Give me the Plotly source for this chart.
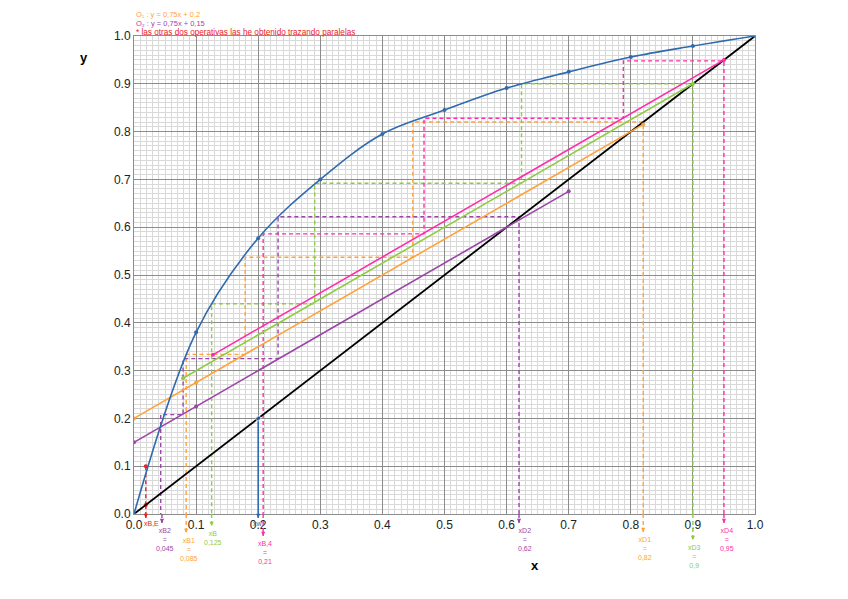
import plotly.graph_objects as go

# ---------------- data ----------------
x_eq = [0.0, 0.1, 0.2, 0.3, 0.4, 0.5, 0.6, 0.7, 0.8, 0.9, 1.0]
y_eq = [0.0, 0.38, 0.577, 0.70, 0.795, 0.845, 0.891, 0.925, 0.956, 0.979, 1.0]

x_diag = [0.0, 1.0]
y_diag = [0.0, 1.0]

x_op1 = [0.0, 0.1, 0.82]          # O1: y = 0.75x + 0.2 (orange)
y_op1 = [0.2, 0.275, 0.815]
x_op2 = [0.0, 0.1, 0.70]          # O2: y = 0.75x + 0.15 (purple)
y_op2 = [0.15, 0.225, 0.675]
x_op3 = [0.079, 0.9]              # parallel (green)
y_op3 = [0.284, 0.9]
x_op4 = [0.127, 0.95]             # parallel (pink)
y_op4 = [0.333, 0.95]

x_st1 = [0.82, 0.82, 0.449, 0.449, 0.179, 0.179, 0.084, 0.084]
y_st1 = [0.0, 0.82, 0.82, 0.537, 0.537, 0.334, 0.334, 0.0]
x_st2 = [0.62, 0.62, 0.232, 0.232, 0.079, 0.079, 0.043, 0.043]
y_st2 = [0.0, 0.622, 0.622, 0.325, 0.325, 0.208, 0.208, 0.0]
x_st3 = [0.9, 0.9, 0.624, 0.624, 0.291, 0.291, 0.125, 0.125]
y_st3 = [0.0, 0.9, 0.9, 0.692, 0.692, 0.44, 0.44, 0.0]
x_st4 = [0.95, 0.95, 0.788, 0.788, 0.467, 0.467, 0.208, 0.208]
y_st4 = [0.0, 0.948, 0.948, 0.828, 0.828, 0.586, 0.586, 0.0]

x_red = [0.019, 0.019]
y_red = [0.1, 0.019]
x_w = [0.2, 0.2]
y_w = [0.2, 0.0]

tick_vals = [0.0, 0.1, 0.2, 0.3, 0.4, 0.5, 0.6, 0.7, 0.8, 0.9, 1.0]
tick_text = ["0.0", "0.1", "0.2", "0.3", "0.4", "0.5", "0.6", "0.7", "0.8", "0.9", "1.0"]

# bottom labels
lab_x = [0.019, 0.045, 0.084, 0.125, 0.2, 0.208, 0.62, 0.82, 0.9, 0.95]
lab_text = ["xB,E", "xB2<br>=<br>0,045", "xB1<br>=<br>0,085", "xB<br>0,125", "xw",
            "xB,4<br>=<br>0,21", "xD2<br>=<br>0,62", "xD1<br>=<br>0,82", "xD3<br>=<br>0,9",
            "xD4<br>=<br>0,95"]

BLUE = "#2F6AAE"
ORANGE = "#FFA23A"
PURPLE = "#9B45A8"
GREEN = "#8FCB45"
PINK = "#FF2DAA"
RED = "#E8231F"
lab_col = [RED, PURPLE, ORANGE, GREEN, BLUE, PINK, PURPLE, ORANGE, GREEN, PINK]
lab_tail = [4, 9, 19, 12, 4, 22, 9, 18, 26, 9]
lab_shift = [6, 3, 3, 1, 0, 2, 6, 2, 2, 3]
lab_gap = [0, 2, 2, 2, 0, 2, 2, 2, 2, 2]

fig = go.Figure()

DASH = "4px,3px"
for xs, ys, c in [(x_st1, y_st1, ORANGE), (x_st2, y_st2, PURPLE),
                  (x_st3, y_st3, GREEN), (x_st4, y_st4, PINK)]:
    fig.add_trace(go.Scatter(x=xs, y=ys, mode="lines",
                             line=dict(color=c, width=1.4, dash=DASH),
                             hoverinfo="skip", showlegend=False))

fig.add_trace(go.Scatter(x=x_red, y=y_red, mode="lines+markers",
                         line=dict(color=RED, width=1.4, dash=DASH),
                         marker=dict(size=4, color=RED), showlegend=False))
fig.add_trace(go.Scatter(x=[x_red[0], x_red[0]], y=[y_red[1], 0.0], mode="lines",
                         line=dict(color=RED, width=1.4, dash=DASH), showlegend=False))

fig.add_trace(go.Scatter(x=x_diag, y=y_diag, mode="lines",
                         line=dict(color="#000000", width=1.8), showlegend=False))

for xs, ys, c in [(x_op2, y_op2, PURPLE), (x_op1, y_op1, ORANGE),
                  (x_op3, y_op3, GREEN), (x_op4, y_op4, PINK)]:
    fig.add_trace(go.Scatter(x=xs, y=ys, mode="lines+markers",
                             line=dict(color=c, width=1.6),
                             marker=dict(size=4, color=c), showlegend=False))

fig.add_trace(go.Scatter(x=x_w, y=y_w, mode="lines+markers",
                         line=dict(color=BLUE, width=1.6),
                         marker=dict(size=[5, 0], color=BLUE), showlegend=False))

fig.add_trace(go.Scatter(x=x_eq, y=y_eq, mode="lines+markers",
                         line=dict(color=BLUE, width=1.6, shape="spline", smoothing=1.0),
                         marker=dict(size=4, color=BLUE), showlegend=False))

PLOT_H = 478
shapes = []
annotations = []
for xv, col, txt, tail, sh, gp in zip(lab_x, lab_col, lab_text, lab_tail, lab_shift, lab_gap):
    shapes.append(dict(type="line", xref="x", yref="paper", x0=xv, x1=xv,
                       y0=0, y1=-tail / PLOT_H,
                       line=dict(color=col, width=1.4, dash=DASH if col != BLUE else "solid")))
    annotations.append(dict(x=xv, y=-tail / PLOT_H, xref="x", yref="paper",
                            text="", showarrow=True, arrowhead=2, arrowsize=0.7,
                            arrowwidth=1.2, arrowcolor=col, ax=0, ay=-4))
    annotations.append(dict(x=xv, y=-(tail + gp) / PLOT_H, xref="x", yref="paper",
                            text=txt, showarrow=False, xshift=sh, yanchor="top",
                            font=dict(size=7, color=col, family="Liberation Sans"),
                            align="center"))

annotations += [
    dict(x=0.646, y=-0.127, xref="paper", yref="paper", text="<b>x</b>", showarrow=False,
         font=dict(size=13, color="#000", family="Liberation Sans")),
    dict(x=-0.09, y=0.974, xref="paper", yref="paper", text="<b>y</b>", showarrow=False,
         font=dict(size=13, color="#000", family="Liberation Sans")),
    dict(x=0.0, y=1.046, xref="paper", yref="paper", xanchor="left", yanchor="middle",
         text="O₁ : y = 0,75x + 0,2", showarrow=False,
         font=dict(size=7.5, color=ORANGE, family="Liberation Sans")),
    dict(x=0.0, y=1.026, xref="paper", yref="paper", xanchor="left", yanchor="middle",
         text="O₂ : y = 0,75x + 0,15", showarrow=False,
         font=dict(size=7.5, color=PURPLE, family="Liberation Sans")),
    dict(x=0.0, y=1.008, xref="paper", yref="paper", xanchor="left", yanchor="middle",
         text="* las otras dos operativas las he obtenido trazando paralelas", showarrow=False,
         font=dict(size=8.2, color=RED, family="Liberation Sans")),
]

axis_common = dict(range=[0, 1], tickmode="array", tickvals=tick_vals, ticktext=tick_text,
                   showgrid=True, gridcolor="#8c8c8c", gridwidth=1,
                   minor=dict(dtick=0.01, showgrid=True, gridcolor="#d9d9d9", gridwidth=1),
                   showline=True, linecolor="#8c8c8c", linewidth=1, mirror=True,
                   zeroline=False, ticks="",
                   tickfont=dict(size=12, color="#222", family="Liberation Sans"))

fig.update_layout(
    width=848, height=599,
    margin=dict(l=126, r=101, t=28, b=93),
    paper_bgcolor="white", plot_bgcolor="white",
    xaxis=dict(**axis_common),
    yaxis=dict(**axis_common),
    shapes=shapes, annotations=annotations,
    showlegend=False,
)

fig.write_html("out.html")
